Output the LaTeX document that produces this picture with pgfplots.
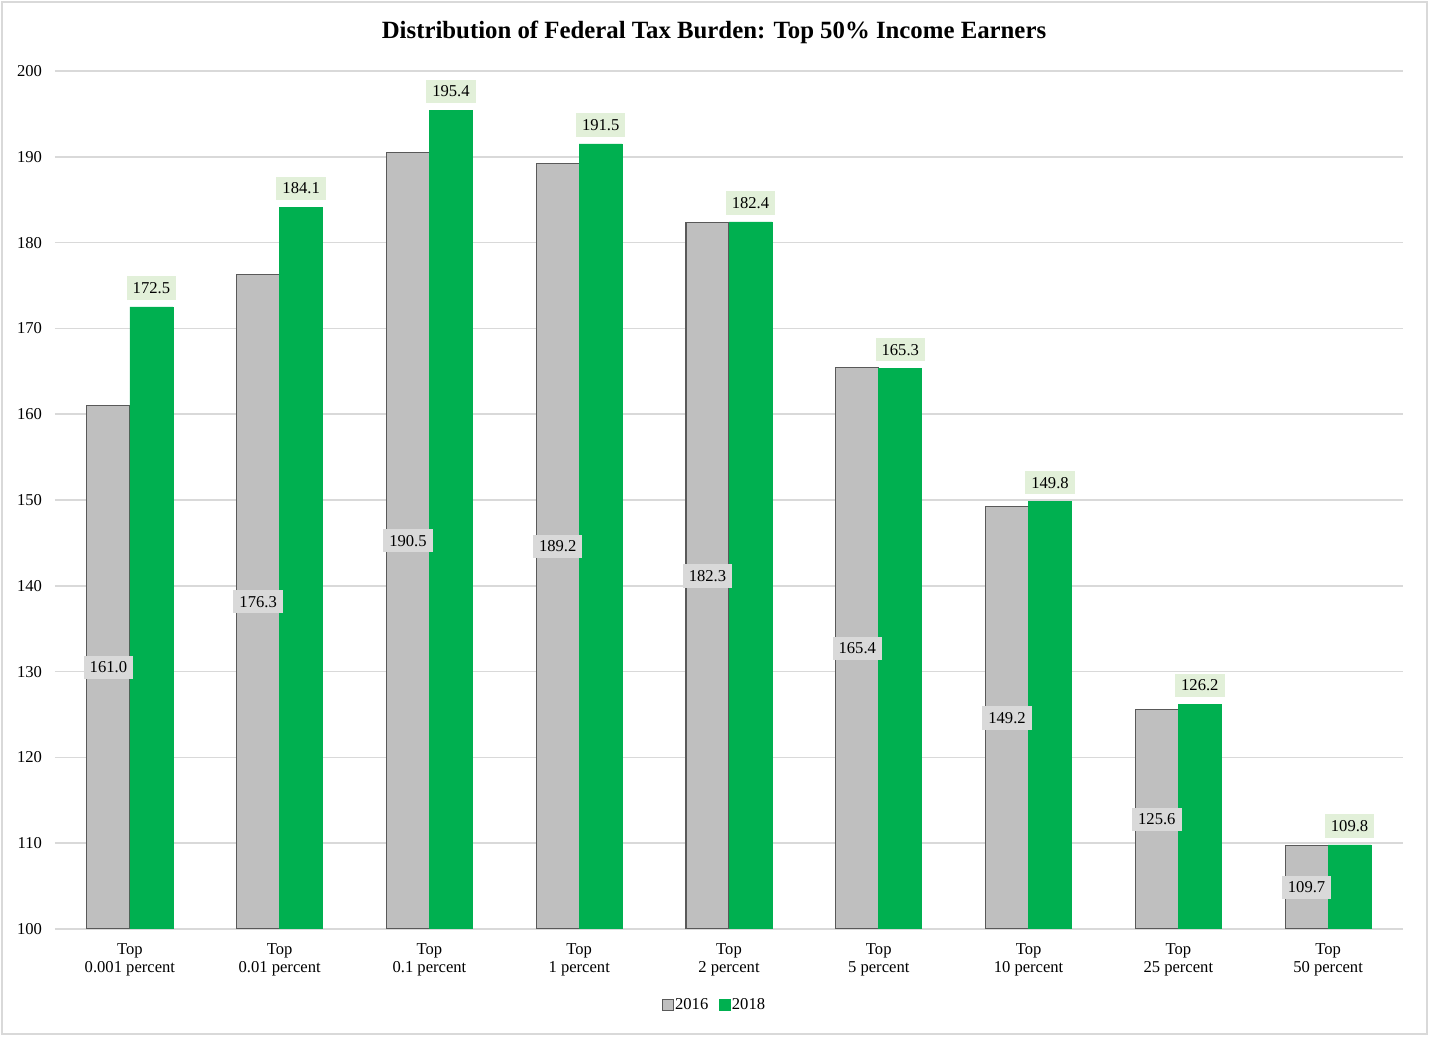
\documentclass[border=0pt]{standalone}
\usepackage{fontspec}
\setmainfont{Liberation Serif}
\usepackage{pgfplots}
\pgfplotsset{compat=1.18}

\definecolor{barGray}{HTML}{BFBFBF}
\definecolor{barEdge}{HTML}{595959}
\definecolor{barGreen}{HTML}{00B050}
\definecolor{gridGray}{HTML}{D9D9D9}
\definecolor{lblGray}{HTML}{D9D9D9}
\definecolor{lblGreen}{HTML}{E2F0D9}

\begin{document}
\begin{tikzpicture}
\begin{axis}[
  at={(0,0)}, anchor=south west,
  scale only axis,
  width=674pt, height=429pt,
  ybar=0pt, bar width=21.5pt,
  xmin=-0.5, xmax=8.5,
  ymin=100, ymax=200,
  ytick={100,110,...,200},
  xtick={0,...,8},
  xticklabels={{Top\\0.001 percent},{Top\\0.01 percent},{Top\\0.1 percent},{Top\\1 percent},{Top\\2 percent},{Top\\5 percent},{Top\\10 percent},{Top\\25 percent},{Top\\50 percent}},
  xticklabel style={align=center, font=\fontsize{8.3}{8.9}\selectfont, yshift=-4pt},
  yticklabel style={font=\fontsize{8.3}{10}\selectfont, /pgf/number format/precision=0, xshift=-3pt},
  /pgf/number format/assume math mode=true,
  axis line style={draw=none},
  major tick length=0pt,
  ymajorgrids, grid style={gridGray, line width=0.8pt},
  title={Distribution of Federal Tax Burden: Top 50\% Income Earners},
  title style={at={(0.5,1)}, anchor=center, xshift=-7.5pt, yshift=13.5pt, font=\fontsize{12.4}{14}\selectfont\bfseries},
  legend style={at={(0.5,0)}, anchor=center, xshift=-7.5pt, yshift=-38pt, draw=none, fill=none,
    legend columns=2, font=\fontsize{8.3}{10}\selectfont,
    nodes={inner xsep=0.6pt},
    /tikz/every even column/.append style={column sep=4.5pt}},
  legend image code/.code={\draw[#1, line width=0.6pt] (0pt,-2.75pt) rectangle (5.5pt,2.75pt);},
  nodes near coords,
  /pgf/number format/.cd, fixed, fixed zerofill, precision=1,
]
% 2016: labels at the middle of the bar
\addplot[fill=barGray, draw=barEdge, line width=0.6pt,
  visualization depends on={y \as \rawy},
  every node near coord/.append style={anchor=center, fill=lblGray, draw=none,
    text=black, font=\fontsize{8.3}{10}\selectfont, inner xsep=3pt, inner ysep=3pt,
    yshift={-(\rawy-100)*2.145pt}}]
  coordinates {(0,161.0) (1,176.3) (2,190.5) (3,189.2) (4,182.3) (5,165.4) (6,149.2) (7,125.6) (8,109.7)};
% 2018: labels above the bar
\addplot[fill=barGreen, draw=barGreen, line width=0.3pt,
  every node near coord/.append style={anchor=center, fill=lblGreen, draw=none,
    text=black, font=\fontsize{8.3}{10}\selectfont, inner xsep=3pt, inner ysep=3pt,
    yshift=9.5pt}]
  coordinates {(0,172.5) (1,184.1) (2,195.4) (3,191.5) (4,182.4) (5,165.3) (6,149.8) (7,126.2) (8,109.8)};
\legend{2016,2018}
\end{axis}
\draw[gridGray, line width=0.8pt] (-26.5pt,-52.5pt) rectangle (686pt,463.5pt);
\path[use as bounding box] (-27.5pt,-54pt) rectangle (687pt,464.5pt);
\end{tikzpicture}
\end{document}
